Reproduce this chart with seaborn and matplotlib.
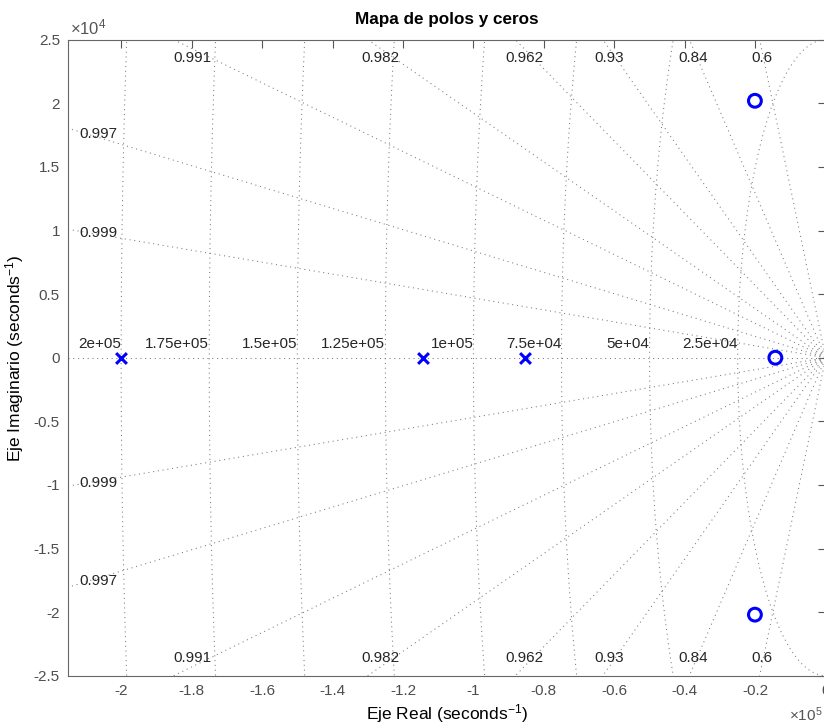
import numpy as np
import matplotlib
matplotlib.use("Agg")
import matplotlib.pyplot as plt
from matplotlib.ticker import FuncFormatter
import seaborn as sns

########### POLES AND ZEROS (rad/s) ###########
pole_re = [-2.0e5, -1.142e5, -0.855e5]
pole_im = [0.0, 0.0, 0.0]
zero_re = [-0.201e5, -0.201e5, -0.143e5]
zero_im = [2.02e4, -2.02e4, 0.0]

########### S-GRID ###########
zeta = [0.6, 0.84, 0.93, 0.962, 0.982, 0.991, 0.9965, 0.9989]
zeta_txt = ['0.6', '0.84', '0.93', '0.962', '0.982', '0.991', '0.997', '0.999']
wn = [2.5e4, 5e4, 7.5e4, 1e5, 1.25e5, 1.5e5, 1.75e5, 2e5]

xlim = (-2.15e5, 0.0)
ylim = (-2.5e4, 2.5e4)
xticks = np.linspace(-2.0e5, 0.0, 11)
yticks = np.linspace(-2.5e4, 2.5e4, 11)

sns.set_style('white')
plt.rcParams['font.family'] = ['Liberation Sans', 'DejaVu Sans']
plt.rcParams['mathtext.fontset'] = 'custom'
plt.rcParams['mathtext.rm'] = 'Liberation Sans'
plt.rcParams['mathtext.it'] = 'Liberation Sans:italic'
plt.rcParams['axes.unicode_minus'] = False

fig = plt.figure(figsize=(8.24, 7.25), dpi=100)
ax = fig.add_axes([0.0829, 0.068, 0.9192, 0.8772])

gcol = '#7a7a7a'
gs = dict(color=gcol, lw=0.75, ls=(0, (1, 3.6)), zorder=1)
tcol = '#262626'

# damping lines
xmin, xmax = xlim
ymax = ylim[1]
for z, lab in zip(zeta, zeta_txt):
    t = np.tan(np.arccos(z))
    R = 3e5
    ax.plot([0, -R], [0, R * t], **gs)
    ax.plot([0, -R], [0, -R * t], **gs)
    if t * abs(xmin) < ymax:
        xl = xmin * 0.96
        yl = t * abs(xmin) * 0.975
    else:
        xl = -0.972 * ymax / t
        yl = 0.944 * ymax
    for s in (1, -1):
        ax.text(xl, s * yl, lab, ha='center', va='center', fontsize=11, color=tcol, zorder=2)

# real axis
ax.plot([xmin, 0], [0, 0], **gs)

# natural frequency circles
th = np.linspace(np.pi / 2, 3 * np.pi / 2, 600)
for w in wn:
    ax.plot(w * np.cos(th), w * np.sin(th), **gs)
    ax.text(-w, 0.043 * ymax, '%.3g' % w, ha='right', va='center', fontsize=11, color=tcol, zorder=2)

# poles and zeros
sns.scatterplot(x=pole_re, y=pole_im, marker='x', s=60, color='blue', linewidth=2.2, ax=ax, zorder=5)
sns.scatterplot(x=zero_re, y=zero_im, marker='o', s=85, facecolor='none', edgecolor='blue', linewidth=2.2, ax=ax, zorder=5)

ax.set_xlim(xlim)
ax.set_ylim(ylim)
ax.set_xticks(xticks)
ax.set_yticks(yticks)
ax.xaxis.set_major_formatter(FuncFormatter(lambda v, p: '%g' % round(v / 1e5, 4)))
ax.yaxis.set_major_formatter(FuncFormatter(lambda v, p: '%g' % round(v / 1e4, 4)))
ax.tick_params(direction='in', length=5.5, width=0.8, top=True, right=True,
               labelsize=11, pad=6, colors='#555555', labelcolor='#4d4d4d')
for sp in ax.spines.values():
    sp.set_color('#666666')
    sp.set_linewidth(0.8)

ax.text(0.002, 1.004, '×10$^{4}$', transform=ax.transAxes, ha='left', va='bottom', fontsize=12, color='#555555')
ax.text(0.951, -0.062, '×10$^{5}$', transform=ax.transAxes, ha='left', va='center', fontsize=11, color='#555555')

ax.set_title('Mapa de polos y ceros', fontweight='bold', fontsize=12.3, pad=11, color='black')
ax.set_xlabel('Eje Real (seconds$^{-1}$)', fontsize=12.5, labelpad=3, color='black')
ax.set_ylabel('Eje Imaginario (seconds$^{-1}$)', fontsize=12.5, labelpad=6, color='black')

fig.savefig('out.png', dpi=100)
